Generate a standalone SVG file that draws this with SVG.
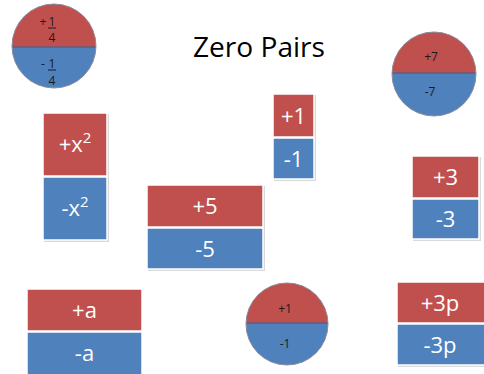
<svg xmlns="http://www.w3.org/2000/svg" width="484" height="374" viewBox="0 0 484 374">
<defs>
<style>
.r{fill:#C0504D;stroke:#fff;stroke-width:1.5}
.b{fill:#4F81BD;stroke:#fff;stroke-width:1.5}
.sh{fill:#d9d9d9}
.cr{fill:#C0504D}
.cb{fill:#4F81BD}
.co{fill:none;stroke:#8a8a9a;stroke-width:1}
.dv{stroke:#3a5f8f;stroke-width:1.2}
.t{font-family:"Open Sans","Noto Sans",sans-serif;font-size:22px;fill:#fff;text-anchor:middle}
.ct{font-family:"Open Sans","Noto Sans",sans-serif;font-size:12px;fill:#1a1a1a;text-anchor:middle}
.ft{font-family:"Open Sans","Noto Sans",sans-serif;font-size:12px;fill:#1a1a1a;text-anchor:middle}
.ttl{font-family:"Open Sans","Noto Sans",sans-serif;font-size:28px;fill:#000}
</style>
<clipPath id="c1"><circle cx="54" cy="46" r="42"/></clipPath>
<clipPath id="c2"><circle cx="434" cy="74" r="42"/></clipPath>
<clipPath id="c3"><circle cx="287" cy="324" r="41"/></clipPath>
</defs>
<rect width="484" height="374" fill="#fff"/>
<text class="ttl" x="193" y="57" textLength="132" lengthAdjust="spacingAndGlyphs">Zero Pairs</text>

<g id="circle-quarter">
<g clip-path="url(#c1)">
<rect class="cr" x="10" y="2" width="90" height="45"/>
<rect class="cb" x="10" y="47" width="90" height="45"/>
</g>
<line class="dv" x1="12" y1="47" x2="96" y2="47"/>
<circle class="co" cx="54" cy="46" r="42"/>
<text class="ft" x="43" y="26">+</text>
<text class="ft" x="52" y="26">1</text>
<line x1="48" y1="28" x2="56" y2="28" stroke="#1a1a1a" stroke-width="1"/>
<text class="ft" x="52" y="42">4</text>
<text class="ft" x="43" y="68">-</text>
<text class="ft" x="52" y="68">1</text>
<line x1="48" y1="70" x2="56" y2="70" stroke="#1a1a1a" stroke-width="1"/>
<text class="ft" x="52" y="85">4</text>
</g>

<g id="circle-7">
<g clip-path="url(#c2)">
<rect class="cr" x="390" y="30" width="90" height="43"/>
<rect class="cb" x="390" y="73" width="90" height="45"/>
</g>
<line class="dv" x1="392" y1="73" x2="476" y2="73"/>
<circle class="co" cx="434" cy="74" r="42"/>
<text class="ct" x="431" y="61">+7</text>
<text class="ct" x="430" y="96">-7</text>
</g>

<g id="block-x2">
<rect class="sh" x="44" y="114" width="65" height="128"/>
<rect class="r" x="43" y="113" width="64" height="63"/>
<rect class="b" x="43" y="177" width="64" height="63"/>
<text class="t" x="75" y="152">+x<tspan font-size="15" dy="-9">2</tspan></text>
<text class="t" x="75" y="216">-x<tspan font-size="15" dy="-9">2</tspan></text>
</g>

<g id="block-5">
<rect class="sh" x="148" y="186" width="117" height="85"/>
<rect class="r" x="147" y="185" width="116" height="42"/>
<rect class="b" x="147" y="228" width="116" height="41"/>
<text class="t" x="205" y="214">+5</text>
<text class="t" x="205" y="257">-5</text>
</g>

<g id="block-1">
<rect class="sh" x="274" y="95" width="42" height="86"/>
<rect class="r" x="273" y="94" width="41" height="43"/>
<rect class="b" x="273" y="138" width="41" height="41"/>
<text class="t" x="293.5" y="124">+1</text>
<text class="t" x="293.5" y="167">-1</text>
</g>

<g id="block-3">
<rect class="sh" x="413" y="157" width="68" height="84"/>
<rect class="r" x="412" y="156" width="67" height="42"/>
<rect class="b" x="412" y="199" width="67" height="40"/>
<text class="t" x="445.5" y="185">+3</text>
<text class="t" x="445.5" y="227">-3</text>
</g>

<g id="block-a">
<rect class="r" x="27" y="289" width="115" height="42"/>
<rect class="b" x="27" y="332" width="115" height="44"/>
<text class="t" x="84.5" y="318">+a</text>
<text class="t" x="84.5" y="361">-a</text>
</g>

<g id="circle-1">
<g clip-path="url(#c3)">
<rect class="cr" x="244" y="281" width="90" height="42"/>
<rect class="cb" x="244" y="323" width="90" height="45"/>
</g>
<line class="dv" x1="246" y1="323" x2="328" y2="323"/>
<circle class="co" cx="287" cy="324" r="41"/>
<text class="ct" x="285" y="313">+1</text>
<text class="ct" x="285" y="348">-1</text>
</g>

<g id="block-3p">
<rect class="sh" x="398" y="283" width="88" height="84"/>
<rect class="r" x="397" y="282" width="88" height="41"/>
<rect class="b" x="397" y="324" width="88" height="41"/>
<text class="t" x="440" y="311">+3p</text>
<text class="t" x="440" y="353">-3p</text>
</g>

<g id="connectors"></g>
</svg>
